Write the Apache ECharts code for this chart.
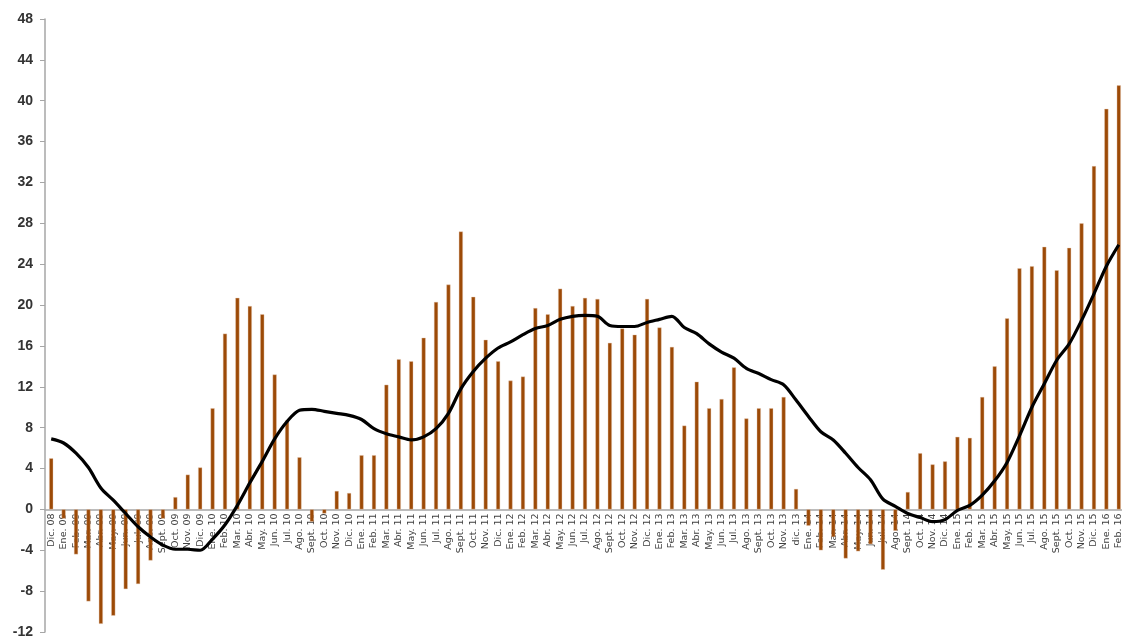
<!DOCTYPE html>
<html>
<head>
<meta charset="utf-8">
<script src="https://cdn.jsdelivr.net/npm/echarts@6/dist/echarts.min.js"></script>
<style>html,body{margin:0;padding:0;background:#fff;}#c{width:1122px;height:639px;}</style>
</head>
<body>
<div id="c"></div>
<script>
const categories = [
 "Dic. 08",
 "Ene. 09","Feb. 09","Mar. 09","Abr. 09","May. 09","Jun. 09","Jul. 09","Ago. 09","Sept. 09","Oct. 09","Nov. 09","Dic. 09",
 "Ene. 10","Feb. 10","Mar. 10","Abr. 10","May. 10","Jun. 10","Jul. 10","Ago. 10","Sept. 10","Oct. 10","Nov. 10","Dic. 10",
 "Ene. 11","Feb. 11","Mar. 11","Abr. 11","May. 11","Jun. 11","Jul. 11","Ago. 11","Sept. 11","Oct. 11","Nov. 11","Dic. 11",
 "Ene. 12","Feb. 12","Mar. 12","Abr. 12","May. 12","Jun. 12","Jul. 12","Ago. 12","Sept. 12","Oct. 12","Nov. 12","Dic. 12",
 "Ene. 13","Feb. 13","Mar. 13","Abr. 13","May. 13","Jun. 13","Jul. 13","Ago. 13","Sept. 13","Oct. 13","Nov. 13","dic. 13",
 "Ene. 14","Feb. 14","Mar. 14","Abr. 14","May. 14","Jun. 14","Jul. 14","Ago. 14","Sept. 14","Oct. 14","Nov. 14","Dic. 14",
 "Ene. 15","Feb. 15","Mar. 15","Abr. 15","May. 15","Jun. 15","Jul. 15","Ago. 15","Sept. 15","Oct. 15","Nov. 15","Dic. 15",
 "Ene. 16","Feb. 16"
];
const barValues = [
 5.0,
 -0.9,-4.4,-9.0,-11.2,-10.4,-7.8,-7.3,-5.0,-0.9,1.2,3.4,4.1,
 9.9,17.2,20.7,19.9,19.1,13.2,8.7,5.1,-1.2,-0.4,1.8,1.6,
 5.3,5.3,12.2,14.7,14.5,16.8,20.3,22.0,27.2,20.8,16.6,14.5,
 12.6,13.0,19.7,19.1,21.6,19.9,20.7,20.6,16.3,17.7,17.1,20.6,
 17.8,15.9,8.2,12.5,9.9,10.8,13.9,8.9,9.9,9.9,11.0,2.0,
 -1.6,-4.0,-2.7,-4.8,-4.1,-3.4,-5.9,-2.1,1.7,5.5,4.4,4.7,
 7.1,7.0,11.0,14.0,18.7,23.6,23.8,25.7,23.4,25.6,28.0,33.6,
 39.2,41.5
];
const lineValues = [
 6.9,
 6.5,5.5,4.1,2.1,0.9,-0.4,-1.7,-2.7,-3.5,-3.9,-3.9,-4.0,
 -2.9,-1.5,0.4,2.6,4.7,6.9,8.6,9.7,9.8,9.6,9.4,9.2,
 8.8,7.9,7.4,7.1,6.8,7.1,7.9,9.4,11.8,13.5,14.8,15.8,
 16.4,17.1,17.7,18.0,18.6,18.9,19.0,18.9,18.0,17.9,17.9,18.3,
 18.6,18.9,17.8,17.2,16.2,15.4,14.8,13.8,13.3,12.7,12.2,10.7,
 9.1,7.6,6.8,5.5,4.1,2.9,1.0,0.3,-0.4,-0.8,-1.2,-1.0,
 -0.1,0.4,1.4,2.8,4.6,7.2,10.0,12.3,14.6,16.2,18.5,21.1,
 23.8,25.9
];
const yTicks = { min: -12, max: 48, interval: 4 };

const W = 1122, H = 639;
const gridTop = 19, gridBottom = 7;
const plotH = H - gridTop - gridBottom;
// distance from the bottom of the plot to the zero line, derived from the value scale
const zeroOffset = plotH * (0 - yTicks.min) / (yTicks.max - yTicks.min);

const chart = echarts.init(document.getElementById('c'), null, { renderer: 'canvas' });
chart.setOption({
  animation: false,
  backgroundColor: '#ffffff',
  grid: { left: 45, right: -3, top: gridTop, bottom: gridBottom, containLabel: false, outerBoundsMode: 'none' },
  xAxis: {
    type: 'category',
    data: categories,
    boundaryGap: true,
    position: 'bottom',
    offset: -zeroOffset,
    axisLine: { onZero: false, lineStyle: { color: '#a6a6a6', width: 1.5 } },
    axisTick: { show: false },
    axisLabel: {
      interval: 0, rotate: 90, fontSize: 9.5, color: '#404040',
      fontFamily: 'DejaVu Sans', margin: 4, hideOverlap: false
    },
    splitLine: { show: false }
  },
  yAxis: {
    type: 'value',
    min: yTicks.min, max: yTicks.max, interval: yTicks.interval,
    axisLine: { show: true, onZero: false, lineStyle: { color: '#a6a6a6', width: 1.5 } },
    axisTick: { show: true, length: 5, lineStyle: { color: '#a6a6a6' } },
    axisLabel: { fontSize: 14, color: '#333333', fontFamily: 'Liberation Sans', fontWeight: 'bold', margin: 12 },
    splitLine: { show: false }
  },
  series: [
    {
      type: 'bar',
      data: barValues,
      barWidth: 4,
      itemStyle: { color: '#9c4a07', borderColor: '#e6c8b0', borderWidth: 0.4 }
    },
    {
      type: 'line',
      data: lineValues,
      smooth: 0.3,
      symbol: 'none',
      lineStyle: { color: '#000000', width: 3.2 },
      z: 5
    }
  ]
});
</script>
</body>
</html>
